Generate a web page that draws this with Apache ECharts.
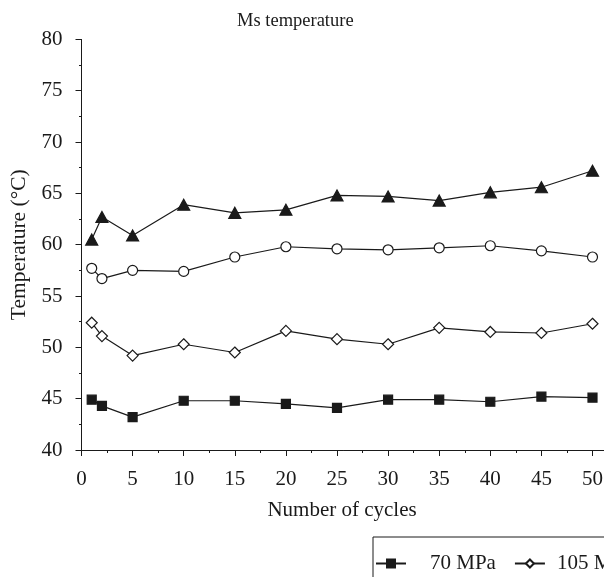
<!DOCTYPE html>
<html>
<head>
<meta charset="utf-8">
<script src="https://cdn.jsdelivr.net/npm/echarts@6/dist/echarts.min.js"></script>
<style>
  html, body { margin: 0; padding: 0; background: #fff; }
  #chart { width: 604px; height: 577px; }
</style>
</head>
<body>
<div id="chart"></div>
<script>
const cycles = [1, 2, 5, 10, 15, 20, 25, 30, 35, 40, 45, 50];
const s70  = [44.9, 44.3, 43.2, 44.8, 44.8, 44.5, 44.1, 44.9, 44.9, 44.7, 45.2, 45.1];
const s105 = [52.4, 51.1, 49.2, 50.3, 49.5, 51.6, 50.8, 50.3, 51.9, 51.5, 51.4, 52.3];
const s140 = [57.7, 56.7, 57.5, 57.4, 58.8, 59.8, 59.6, 59.5, 59.7, 59.9, 59.4, 58.8];
const s175 = [60.5, 62.7, 60.9, 63.9, 63.1, 63.4, 64.8, 64.7, 64.3, 65.1, 65.6, 67.2];
const seriesNames = ['70 MPa', '105 MPa', '140 MPa', '175 MPa'];
const yTicks = [40, 45, 50, 55, 60, 65, 70, 75, 80];
const xTicks = [0, 5, 10, 15, 20, 25, 30, 35, 40, 45, 50];

const FONT = '"Liberation Serif", "DejaVu Serif", serif';
const INK = '#1a1a1a';

function pairs(vals) { return cycles.map((c, i) => [c, vals[i]]); }

const chart = echarts.init(document.getElementById('chart'), null, { renderer: 'canvas' });

const styles = [
  { symbol: 'rect', symbolSize: 9, fill: INK },
  { symbol: 'diamond', symbolSize: 11, fill: '#fff' },
  { symbol: 'circle', symbolSize: 10, fill: '#fff' },
  { symbol: 'triangle', symbolSize: [12, 11], fill: INK }
];
const dataSets = [s70, s105, s140, s175];
const legendTextPad = [19, 7, 7, 7];

chart.setOption({
  animation: false,
  backgroundColor: '#fff',
  title: {
    text: 'Ms temperature',
    left: 237, top: 12, padding: 0,
    textStyle: { fontFamily: FONT, fontWeight: 'normal', fontSize: 18.5, color: INK }
  },
  legend: {
    left: 373, top: 537, width: 600,
    orient: 'horizontal',
    padding: [16, 10, 20, 2],
    borderColor: INK, borderWidth: 1,
    itemWidth: 30, itemHeight: 10, itemGap: 18,
    textStyle: { fontFamily: FONT, fontSize: 21, color: INK },
    data: seriesNames.map((n, i) => ({
      name: n,
      textStyle: { fontFamily: FONT, fontSize: 21, color: INK, padding: [0, 0, 0, legendTextPad[i]] }
    }))
  },
  grid: { left: 81.5, top: 39.4, bottom: 127, right: -39.6, containLabel: false, outerBoundsMode: 'none' },
  xAxis: {
    type: 'value', min: 0, max: 55, interval: 5,
    name: 'Number of cycles', nameLocation: 'middle', nameGap: 50,
    nameTextStyle: { fontFamily: FONT, fontSize: 21, color: INK, padding: [0, 41, 0, 0] },
    axisLine: { show: true, lineStyle: { color: INK, width: 1 } },
    axisTick: { show: true, inside: false, length: 6, lineStyle: { color: INK, width: 1 } },
    minorTick: { show: true, splitNumber: 2, length: 3, lineStyle: { color: INK, width: 1 } },
    splitLine: { show: false },
    axisLabel: {
      margin: 19, fontFamily: FONT, fontSize: 21, color: INK,
      formatter: v => (xTicks.indexOf(v) >= 0 ? String(v) : '')
    }
  },
  yAxis: {
    type: 'value', min: 40, max: 80, interval: 5,
    name: 'Temperature (°C)', nameLocation: 'middle', nameGap: 50, nameRotate: 90,
    nameTextStyle: { fontFamily: FONT, fontSize: 21.5, color: INK },
    axisLine: { show: true, lineStyle: { color: INK, width: 1 } },
    axisTick: { show: true, inside: false, length: 6, lineStyle: { color: INK, width: 1 } },
    minorTick: { show: true, splitNumber: 2, length: 2.5, lineStyle: { color: INK, width: 1 } },
    splitLine: { show: false },
    axisLabel: {
      margin: 19, fontFamily: FONT, fontSize: 21, color: INK,
      formatter: v => (yTicks.indexOf(v) >= 0 ? String(v) : '')
    }
  },
  series: seriesNames.map((name, i) => ({
    name: name,
    type: 'line',
    data: pairs(dataSets[i]),
    symbol: styles[i].symbol,
    symbolSize: styles[i].symbolSize,
    showAllSymbol: true,
    lineStyle: { color: INK, width: 1.2 },
    itemStyle: { color: styles[i].fill, borderColor: INK, borderWidth: 1.2 },
    emphasis: { disabled: true }
  }))
});
</script>
</body>
</html>
